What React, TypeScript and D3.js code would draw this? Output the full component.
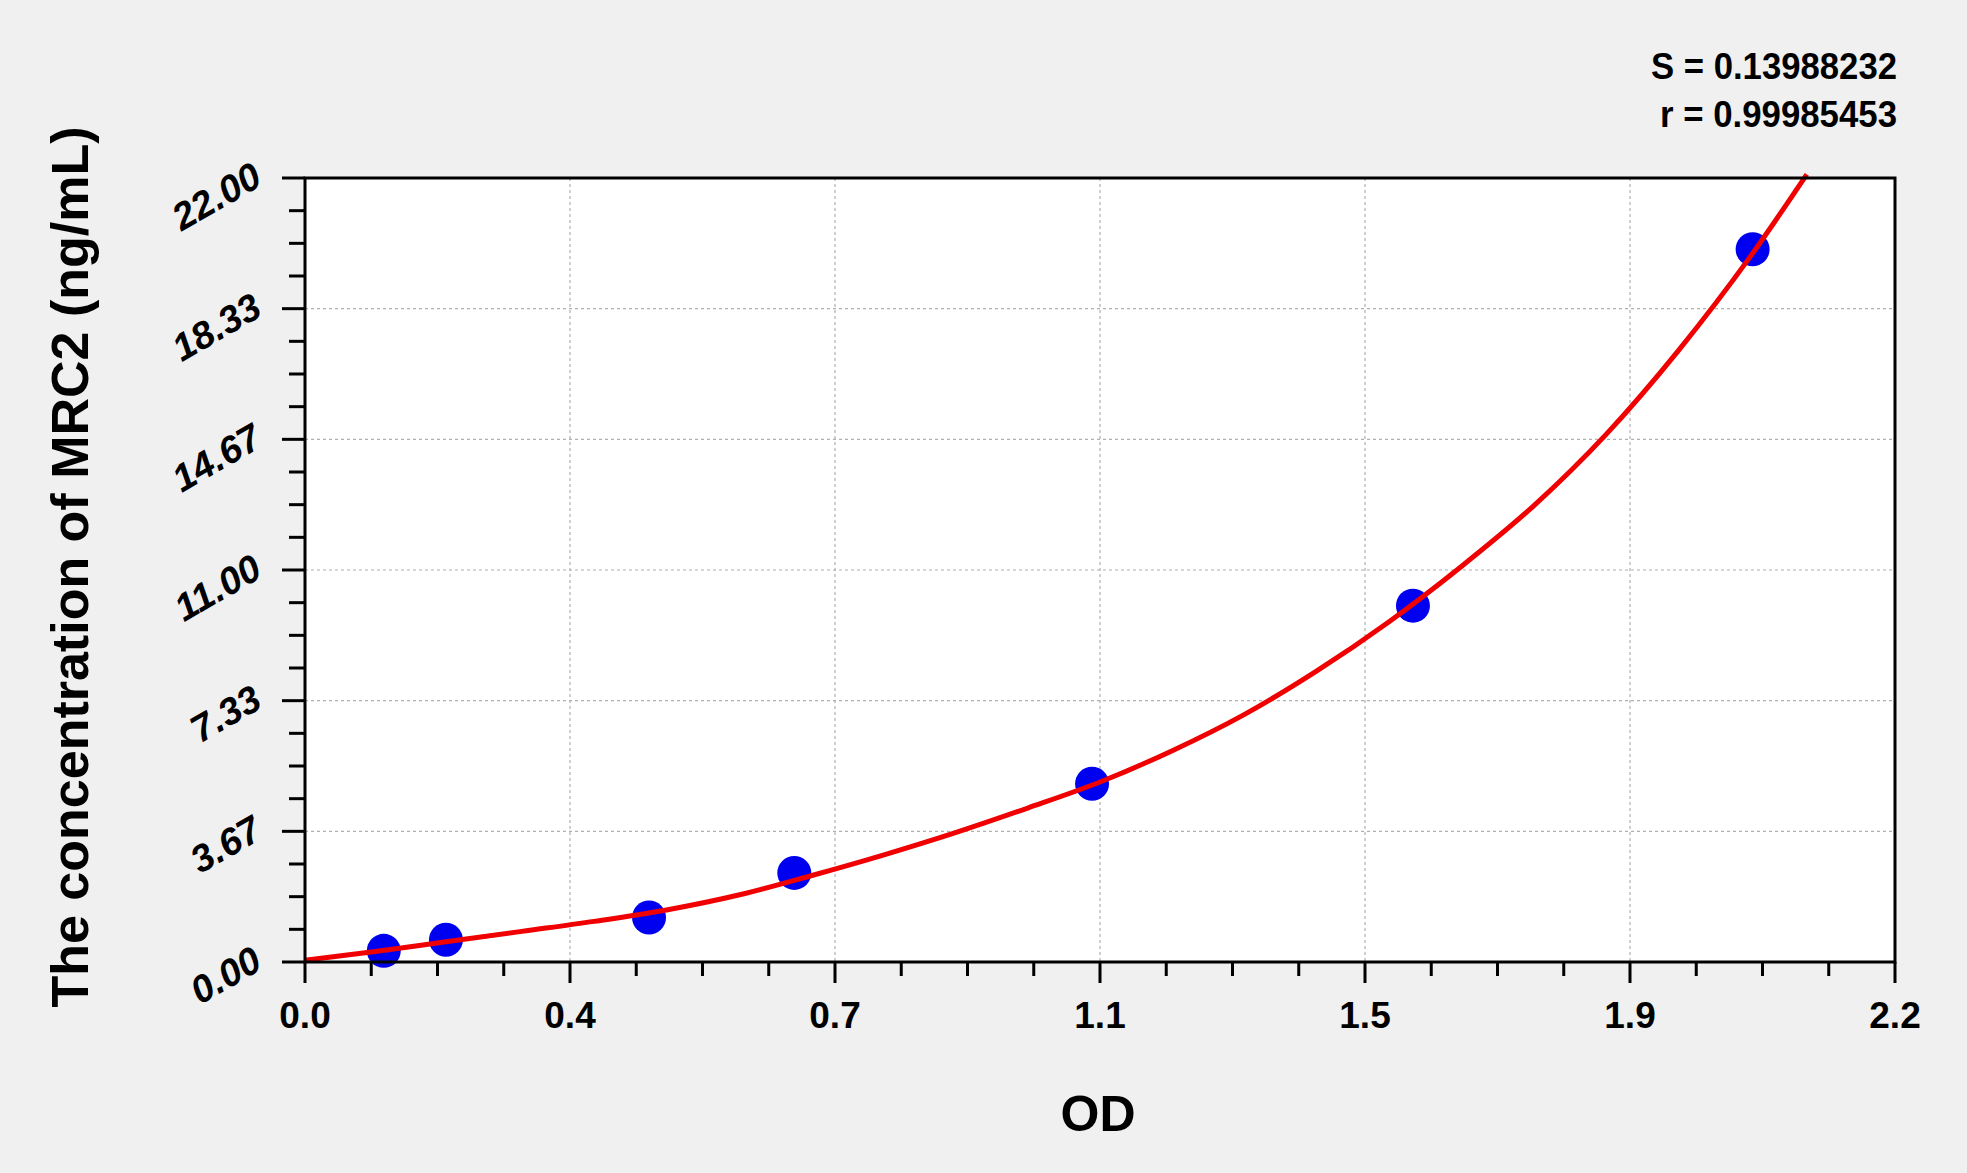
import * as d3 from 'd3'

const W = 1967
const H = 1173
const PLOT = { left: 305, right: 1895, top: 178, bottom: 962 }
const FONT = '"Liberation Sans", Arial, Helvetica, sans-serif'

// axis setup
const X_MAX = 2.2
const Y_MAX = 22
const xTickLabels = ['0.0', '0.4', '0.7', '1.1', '1.5', '1.9', '2.2']
const yTickLabels = ['0.00', '3.67', '7.33', '11.00', '14.67', '18.33', '22.00']
const MINOR_PER_MAJOR = 4

// standards (OD vs concentration)
const odValues = [0.109, 0.195, 0.476, 0.677, 1.089, 1.533, 2.003]
const concValues = [0.3125, 0.625, 1.25, 2.5, 5, 10, 20]

// fitted curve
const curveOd = [0, 0.1, 0.2, 0.3, 0.4, 0.5, 0.6, 0.7, 0.8, 0.9, 1.0, 1.1, 1.2, 1.3, 1.4, 1.5, 1.6, 1.7, 1.8, 1.9, 2.0, 2.078]
const curveConc = [0.05, 0.3, 0.58, 0.86, 1.14, 1.46, 1.88, 2.42, 3.0, 3.63, 4.32, 5.05, 5.93, 6.95, 8.17, 9.55, 11.1, 12.8, 14.8, 17.15, 19.8, 22.1]

const statLines = ['S = 0.13988232', 'r = 0.99985453']

export default function App() {
  const x = d3.scaleLinear().domain([0, X_MAX]).range([PLOT.left, PLOT.right])
  const y = d3.scaleLinear().domain([0, Y_MAX]).range([PLOT.bottom, PLOT.top])

  const xMajor = xTickLabels.map((_, i) => (i * X_MAX) / (xTickLabels.length - 1))
  const yMajor = yTickLabels.map((_, i) => (i * Y_MAX) / (yTickLabels.length - 1))
  const nxMinor = (xTickLabels.length - 1) * MINOR_PER_MAJOR
  const nyMinor = (yTickLabels.length - 1) * MINOR_PER_MAJOR
  const xMinor = d3.range(nxMinor + 1).filter(i => i % MINOR_PER_MAJOR !== 0).map(i => (i * X_MAX) / nxMinor)
  const yMinor = d3.range(nyMinor + 1).filter(i => i % MINOR_PER_MAJOR !== 0).map(i => (i * Y_MAX) / nyMinor)

  const line = d3.line<number>()
    .x(i => x(curveOd[i]))
    .y(i => y(curveConc[i]))
    .curve(d3.curveMonotoneX)
  const curvePath = line(d3.range(curveOd.length)) ?? ''

  const midY = (PLOT.top + PLOT.bottom) / 2 - 3

  return (
    <>
      <style>{`body{margin:0;background:#f0f0f0}`}</style>
      <svg width={W} height={H} style={{ display: 'block', background: '#f0f0f0' }} fontFamily={FONT}>
        <rect x={PLOT.left} y={PLOT.top} width={PLOT.right - PLOT.left} height={PLOT.bottom - PLOT.top} fill="#fff" />

        {/* grid */}
        <g stroke="#b0b0b0" strokeWidth={1.2} strokeDasharray="3,3">
          {xMajor.slice(1, -1).map((v, i) => (
            <line key={'gx' + i} x1={x(v)} x2={x(v)} y1={PLOT.top} y2={PLOT.bottom} />
          ))}
          {yMajor.slice(1, -1).map((v, i) => (
            <line key={'gy' + i} x1={PLOT.left} x2={PLOT.right} y1={y(v)} y2={y(v)} />
          ))}
        </g>

        {/* ticks */}
        <g stroke="#000" strokeWidth={3}>
          {xMajor.map((v, i) => (
            <line key={'xM' + i} x1={x(v)} x2={x(v)} y1={PLOT.bottom} y2={PLOT.bottom + 21} />
          ))}
          {xMinor.map((v, i) => (
            <line key={'xm' + i} x1={x(v)} x2={x(v)} y1={PLOT.bottom} y2={PLOT.bottom + 14} />
          ))}
          {yMajor.map((v, i) => (
            <line key={'yM' + i} x1={PLOT.left - 23} x2={PLOT.left} y1={y(v)} y2={y(v)} />
          ))}
          {yMinor.map((v, i) => (
            <line key={'ym' + i} x1={PLOT.left - 16} x2={PLOT.left} y1={y(v)} y2={y(v)} />
          ))}
        </g>

        {/* data points */}
        <g fill="#0000f0">
          {odValues.map((v, i) => (
            <circle key={'p' + i} cx={x(v)} cy={y(concValues[i])} r={17} />
          ))}
        </g>

        {/* fitted curve */}
        <path d={curvePath} fill="none" stroke="#f00000" strokeWidth={5} strokeLinejoin="round" />

        {/* frame */}
        <rect x={PLOT.left} y={PLOT.top} width={PLOT.right - PLOT.left} height={PLOT.bottom - PLOT.top} fill="none" stroke="#000" strokeWidth={3} />

        {/* x tick labels */}
        <g fontSize={37} fontWeight="bold" textAnchor="middle" fill="#000">
          {xMajor.map((v, i) => (
            <text key={'xl' + i} x={x(v)} y={1028}>{xTickLabels[i]}</text>
          ))}
        </g>

        {/* y tick labels */}
        <g fontSize={38} fontWeight="bold" fontStyle="italic" textAnchor="end" fill="#000">
          {yMajor.map((v, i) => (
            <text key={'yl' + i} x={264} y={y(v) + 6} transform={`rotate(-30, 264, ${y(v) + 6})`}>
              {yTickLabels[i]}
            </text>
          ))}
        </g>

        {/* axis titles */}
        <text x={1098} y={1131} fontSize={50} fontWeight="bold" textAnchor="middle">OD</text>
        <text
          x={88}
          y={midY}
          fontSize={52}
          fontWeight="bold"
          textAnchor="middle"
          transform={`rotate(-90, 88, ${midY})`}
        >
          The concentration of MRC2 (ng/mL)
        </text>

        {/* fit statistics */}
        <g fontSize={37} fontWeight="bold" textAnchor="end">
          {statLines.map((s, i) => (
            <text key={'s' + i} x={1897} y={79 + i * 48} textLength={i === 0 ? 246 : 237} lengthAdjust="spacingAndGlyphs">{s}</text>
          ))}
        </g>
      </svg>
    </>
  )
}
